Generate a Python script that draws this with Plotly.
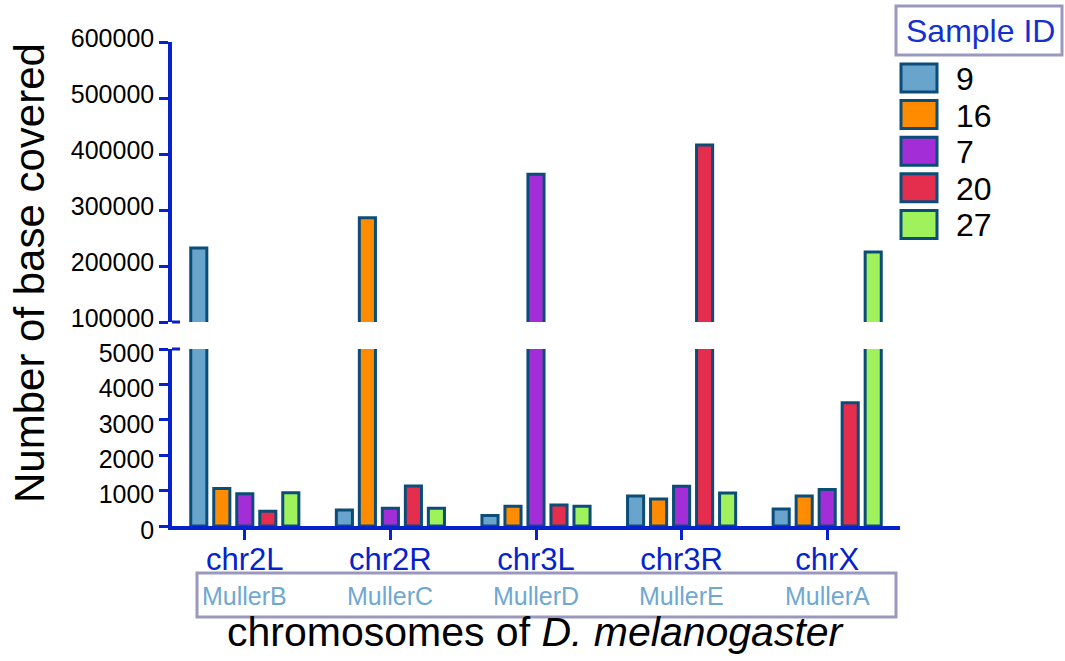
import plotly.graph_objects as go

chromosomes = ["chr2L", "chr2R", "chr3L", "chr3R", "chrX"]
muller = ["MullerB", "MullerC", "MullerD", "MullerE", "MullerA"]
sample_ids = ["9", "16", "7", "20", "27"]

s9 = [232000, 450, 300, 850, 480]
s16 = [1060, 286000, 560, 760, 850]
s7 = [910, 500, 364000, 1120, 1030]
s20 = [420, 1130, 590, 416000, 3480]
s27 = [940, 500, 560, 930, 225000]
series = [s9, s16, s7, s20, s27]

colors = ["#68a4cc", "#ff8c00", "#a32ed8", "#e52d4d", "#9ff25c"]
outline = "#0b4d78"
axis_blue = "#0522cc"
font_fam = "Arial, Liberation Sans, sans-serif"

fig = go.Figure()
for name, vals, col in zip(sample_ids, series, colors):
    for yax in ["y", "y2"]:
        fig.add_trace(go.Bar(
            x=chromosomes, y=vals, name=name, yaxis=yax, xaxis="x",
            marker=dict(color=col, line=dict(color=outline, width=3)),
            showlegend=False, offsetgroup=name,
        ))

L, R, T, B = 172, 165, 42, 135
W, H = 1065, 661
pw = W - L - R
ph = H - T - B
y_axis_bottom = H - B

def py(pix):
    return (y_axis_bottom - pix) / ph

def px(pix):
    return (pix - L) / pw

low_top = py(349)
up_bot = py(322)

tickfont = dict(family=font_fam, size=25, color="black")
fig.update_layout(
    width=W, height=H,
    margin=dict(l=L, r=R, t=T, b=B),
    paper_bgcolor="white", plot_bgcolor="white",
    barmode="group", bargap=0.21, bargroupgap=0.3,
    font=dict(family=font_fam),
    xaxis=dict(
        anchor="y", showline=True, linecolor=axis_blue, linewidth=3.5,
        ticks="outside", tickcolor=axis_blue, tickwidth=3, ticklen=10,
        tickfont=dict(family=font_fam, size=31, color=axis_blue),
        ticklabelstandoff=-7,
        showgrid=False, zeroline=False,
    ),
    yaxis=dict(
        domain=[0, low_top], range=[0, 5000], dtick=1000,
        showline=True, linecolor=axis_blue, linewidth=3.5,
        ticks="outside", tickcolor=axis_blue, tickwidth=3, ticklen=9,
        tickfont=tickfont, showgrid=False, zeroline=False,
        tickformat="d", ticklabelshift=4,
    ),
    yaxis2=dict(
        domain=[up_bot, 1], range=[100000, 600000], dtick=100000,
        anchor="x",
        showline=True, linecolor=axis_blue, linewidth=3.5,
        ticks="outside", tickcolor=axis_blue, tickwidth=3, ticklen=9,
        tickfont=tickfont, showgrid=False, zeroline=False,
        tickformat="d", ticklabelshift=-4,
    ),
)

annotations = []
shapes = []

# Muller labels under categories
for chrom, m in zip(chromosomes, muller):
    annotations.append(dict(
        x=chrom, xref="x", y=py(596), yref="paper", text=m, showarrow=False,
        font=dict(family=font_fam, size=25, color="#6fa8d0"),
        xanchor="center", yanchor="middle",
    ))
shapes.append(dict(
    type="rect", xref="paper", yref="paper",
    x0=px(197), x1=px(896), y0=py(617), y1=py(573),
    line=dict(color="#9a98bf", width=3), fillcolor="rgba(0,0,0,0)",
))

# axis titles
annotations.append(dict(
    x=0.5, xref="paper", y=py(632), yref="paper",
    text="chromosomes of <i>D. melanogaster</i>", showarrow=False,
    font=dict(family=font_fam, size=41, color="black"),
    xanchor="center", yanchor="middle",
))
annotations.append(dict(
    x=px(29), xref="paper", y=py(273), yref="paper",
    text="Number of base covered", showarrow=False, textangle=-90,
    font=dict(family=font_fam, size=42, color="black"),
    xanchor="center", yanchor="middle",
))

# break marks: short right extension of end ticks
for ypix in (322, 349):
    shapes.append(dict(
        type="line", xref="paper", yref="paper",
        x0=0, x1=px(180), y0=py(ypix), y1=py(ypix),
        line=dict(color=axis_blue, width=3),
    ))

# legend (manual)
shapes.append(dict(
    type="rect", xref="paper", yref="paper",
    x0=px(896), x1=px(1062), y0=py(55), y1=py(6),
    line=dict(color="#9a98bf", width=3), fillcolor="white",
))
annotations.append(dict(
    x=px(980), xref="paper", y=py(31), yref="paper", text="Sample ID",
    showarrow=False, font=dict(family=font_fam, size=32, color="#1530d0"),
    xanchor="center", yanchor="middle",
))
row0, pitch = 78, 36.6
for i, (name, col) in enumerate(zip(sample_ids, colors)):
    yc = row0 + i * pitch
    shapes.append(dict(
        type="rect", xref="paper", yref="paper",
        x0=px(901), x1=px(937), y0=py(yc + 14), y1=py(yc - 14),
        line=dict(color=outline, width=3), fillcolor=col,
    ))
    annotations.append(dict(
        x=px(954), xref="paper", y=py(yc + 1), yref="paper", text=name,
        showarrow=False, font=dict(family=font_fam, size=32, color="black"),
        xanchor="left", yanchor="middle",
    ))

fig.update_layout(annotations=annotations, shapes=shapes)
fig.write_html("out.html")
